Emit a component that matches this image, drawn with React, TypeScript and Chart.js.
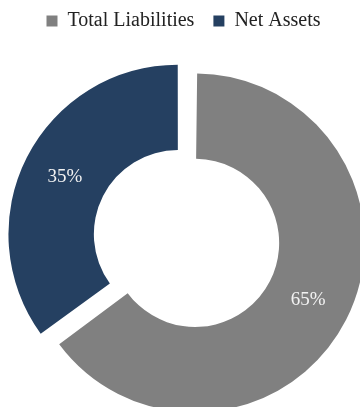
import React, { useEffect, useRef } from "react";
import { Chart, registerables } from "chart.js";

Chart.register(...registerables);

const categories = ["Total Liabilities", "Net Assets"];
const shares = [65, 35];
const sliceColors = ["#808080", "#254061"];
const sliceOffsets = [52, 25];

const FONT = "'Liberation Serif', 'Times New Roman', serif";

function radiusCorrection(arc: any) {
  const off = (arc.options && arc.options.offset) || 0;
  const fix = 1 - Math.sin(Math.min(Math.PI, arc.circumference || 0));
  return (off / 4) * fix;
}

const radiusFixPlugin = {
  id: "radiusFix",
  afterDatasetUpdate(chart: any, args: any) {
    const meta = chart.getDatasetMeta(args.index);
    meta.data.forEach((arc: any) => {
      const ro = radiusCorrection(arc);
      arc.outerRadius -= ro;
      arc.innerRadius -= ro;
    });
  },
};

const labelPlugin = {
  id: "sliceLabels",
  afterDatasetsDraw(chart: any) {
    const ctx = chart.ctx;
    const meta = chart.getDatasetMeta(0);
    const data = chart.data.datasets[0].data as number[];
    const total = data.reduce((a, b) => a + b, 0);
    ctx.save();
    ctx.font = `19px ${FONT}`;
    ctx.fillStyle = "#f2f2f2";
    ctx.textAlign = "center";
    ctx.textBaseline = "middle";
    meta.data.forEach((arc: any, i: number) => {
      const half = (arc.startAngle + arc.endAngle) / 2;
      const off = ((arc.options && arc.options.offset) || 0) / 4;
      const r = (arc.innerRadius + arc.outerRadius) / 2 + radiusCorrection(arc) + off;
      const x = arc.x + Math.cos(half) * r;
      const y = arc.y + Math.sin(half) * r;
      ctx.fillText(`${Math.round((data[i] / total) * 100)}%`, x, y);
    });
    ctx.restore();
  },
};

export default function App() {
  const ref = useRef<HTMLCanvasElement | null>(null);
  useEffect(() => {
    if (!ref.current) return;
    const chart = new Chart(ref.current, {
      type: "doughnut",
      data: {
        labels: categories,
        datasets: [
          {
            data: shares,
            backgroundColor: sliceColors,
            borderWidth: 0,
            offset: sliceOffsets,
            hoverOffset: 0,
          } as any,
        ],
      },
      options: {
        animation: false,
        responsive: false,
        radius: 169.5,
        cutout: "49.6%",
        layout: { padding: { left: 7, right: 0, top: 0, bottom: 0 } },
        plugins: {
          legend: {
            position: "top",
            labels: {
              boxWidth: 11,
              boxHeight: 11,
              padding: 19,
              color: "#222222",
              font: { family: FONT, size: 20 },
            },
          },
          tooltip: { enabled: false },
        },
      } as any,
      plugins: [radiusFixPlugin, labelPlugin],
    });
    return () => chart.destroy();
  }, []);
  return (
    <div
      style={{
        position: "fixed",
        left: 0,
        top: 0,
        width: 360,
        height: 407,
        overflow: "hidden",
        background: "#ffffff",
      }}
    >
      <canvas
        ref={ref}
        width={360}
        height={441}
        style={{ position: "absolute", left: 0, top: -8, width: 360, height: 441 }}
      />
    </div>
  );
}
